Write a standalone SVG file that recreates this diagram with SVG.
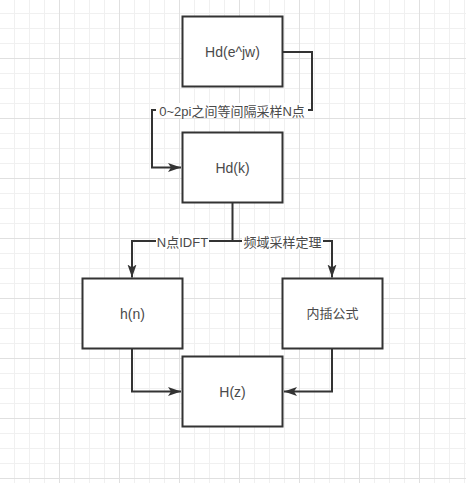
<svg xmlns="http://www.w3.org/2000/svg" width="466" height="483" viewBox="0 0 466 483">
<defs>
<pattern id="grid" patternUnits="userSpaceOnUse" x="-1" y="-2" width="60" height="60">
<path d="M15.5,0V60M30.5,0V60M45.5,0V60M0,15.5H60M0,30.5H60M0,45.5H60" stroke="#f0f0f0" stroke-width="1" fill="none"/>
<path d="M0.5,0V60M0,0.5H60" stroke="#e0e0e0" stroke-width="1" fill="none"/>
</pattern>
<marker id="arr" markerUnits="userSpaceOnUse" markerWidth="14" markerHeight="10" refX="13" refY="5" orient="auto">
<path d="M0,0.5 L13,5 L0,9.5 L3,5 Z" fill="#333"/>
</marker>
<style>
.box rect{fill:#fff;stroke:#333;stroke-width:2}
.box text,.lbl text{font-family:"Liberation Sans","Noto Sans CJK SC",sans-serif;font-size:13px;fill:#4a4a4a;text-anchor:middle;dominant-baseline:central}
.box text{font-size:14px}
.box text.cjk{font-size:13px}
.edge{fill:none;stroke:#333;stroke-width:2}
.lbl rect{fill:#fff}
</style>
</defs>
<rect width="466" height="483" fill="#fff"/>
<rect width="466" height="483" fill="url(#grid)"/>
<g id="connectors">
<path class="edge" d="M282.5,52 H312 V110 H152 V167.5 H181" marker-end="url(#arr)"/>
<path class="edge" d="M232.5,202.5 V241 H132 V277.5" marker-end="url(#arr)"/>
<path class="edge" d="M232.5,241 H332 V277.5" marker-end="url(#arr)"/>
<path class="edge" d="M132,348.5 V391.5 H181" marker-end="url(#arr)"/>
<path class="edge" d="M332,348.5 V391.5 H284" marker-end="url(#arr)"/>
<g class="lbl"><rect x="156" y="103" width="152" height="15"/><text x="232" y="111">0~2pi之间等间隔采样N点</text></g>
<g class="lbl"><rect x="156" y="234" width="53" height="15"/><text x="182.5" y="242">N点IDFT</text></g>
<g class="lbl"><rect x="242" y="234" width="81" height="15"/><text x="282.5" y="242">频域采样定理</text></g>
</g>
<g id="n1" class="box"><rect x="182.5" y="16.5" width="100" height="70"/><text x="232.5" y="51.5">Hd(e^jw)</text></g>
<g id="n2" class="box"><rect x="182.5" y="132.5" width="100" height="70"/><text x="232.5" y="167.5">Hd(k)</text></g>
<g id="n3" class="box"><rect x="82.5" y="278.5" width="100" height="70"/><text x="132.5" y="313.5">h(n)</text></g>
<g id="n4" class="box"><rect x="282.5" y="278.5" width="100" height="70"/><text class="cjk" x="332.5" y="313.5">内插公式</text></g>
<g id="n5" class="box"><rect x="182.5" y="356.5" width="100" height="70"/><text x="232.5" y="391.5">H(z)</text></g>
</svg>
